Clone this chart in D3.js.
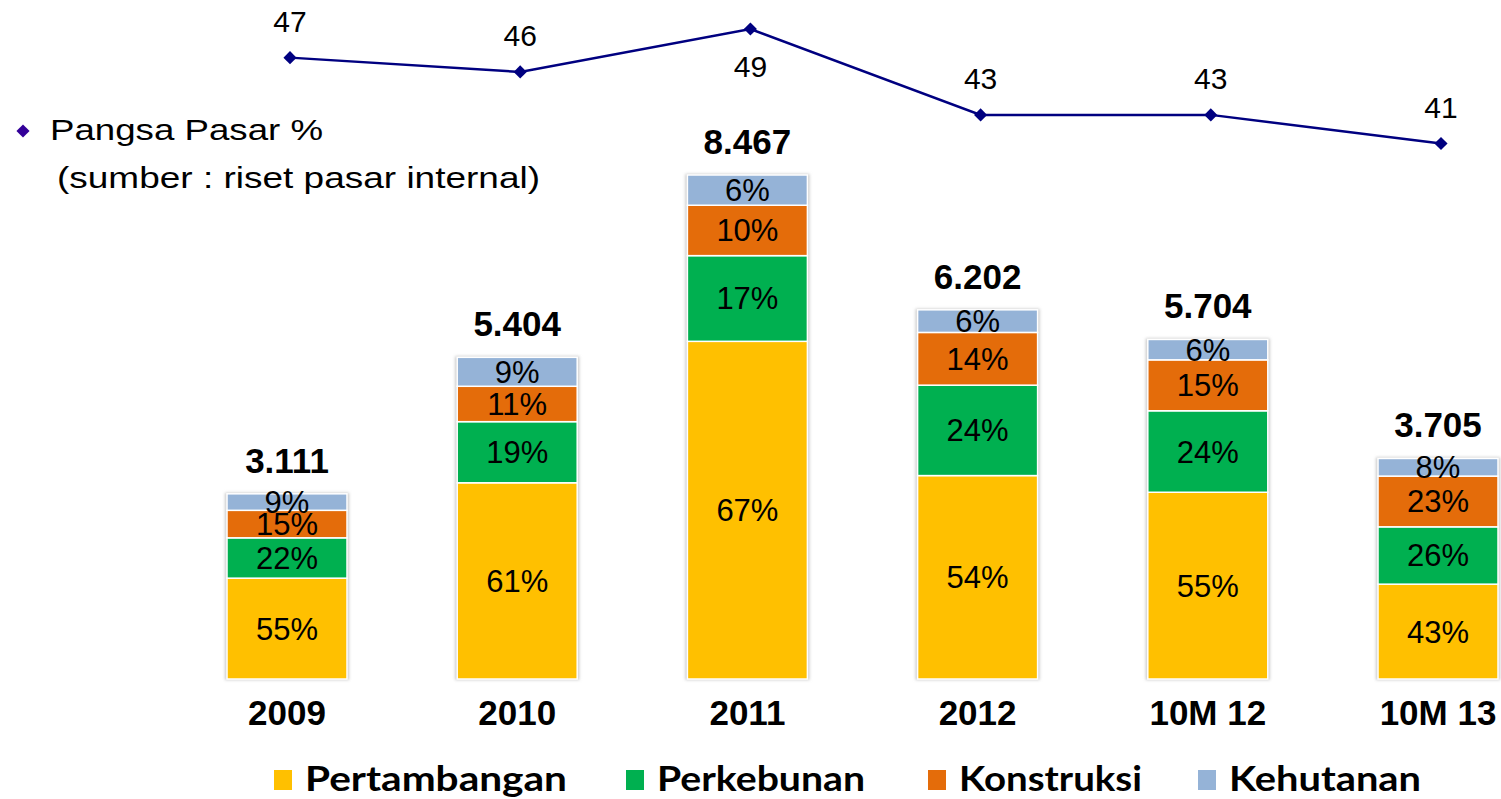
<!DOCTYPE html>
<html>
<head>
<meta charset="utf-8">
<script src="https://cdn.jsdelivr.net/npm/d3@7/dist/d3.min.js"></script>
<style>
  body { margin: 0; background: #fff; }
  svg { display: block; }
</style>
</head>
<body>
<svg width="1501" height="799"></svg>
<script>
// Stacked bars (share per sector) + market share line on top

// Data
const categories = ["2009", "2010", "2011", "2012", "10M 12", "10M 13"];
const totals = [3111, 5404, 8467, 6202, 5704, 3705];
const pertambangan = [55, 61, 67, 54, 55, 43];
const perkebunan = [22, 19, 17, 24, 24, 26];
const konstruksi = [15, 11, 10, 14, 15, 23];
const kehutanan = [9, 9, 6, 6, 6, 8];
const pangsaPasar = [47, 46, 49, 43, 43, 41];

const seriesNames = ["Pertambangan", "Perkebunan", "Konstruksi", "Kehutanan"];
const seriesColors = ["#FFC000", "#00B050", "#E46C0A", "#95B3D7"];
const seriesValues = [pertambangan, perkebunan, konstruksi, kehutanan];

const BAR_W = 120;
const BASE_FONT = "'Liberation Sans', Arial, sans-serif";
const LEGEND_FONT = "Lato, 'Open Sans', sans-serif";

const svg = d3.select("svg"),
    width = +svg.attr("width"),
    height = +svg.attr("height");

svg.append("rect").attr("width", width).attr("height", height).attr("fill", "#fff");

// soft shadow round the bars
const defs = svg.append("defs");
defs.append("filter").attr("id", "shadow")
    .attr("x", "-10%").attr("y", "-10%").attr("width", "120%").attr("height", "120%")
  .append("feGaussianBlur").attr("stdDeviation", 1.5);

// Scales
const x = d3.scalePoint().domain(categories).range([287, 1438]);
const y = d3.scaleLinear().domain([0, 8467]).range([679, 175]);
const yLine = d3.scaleLinear().domain([41, 49]).range([143.5, 29]);

const fmt = d3.formatLocale({decimal: ",", thousands: ".", grouping: [3], currency: ["", ""]}).format(",");

// Build stacked rows: each segment scaled to the bar total
const rows = categories.map((c, i) => {
    const sum = d3.sum(seriesValues, s => s[i]);
    let acc = 0;
    const segs = seriesValues.map((s, k) => {
        const v0 = acc;
        acc += totals[i] * s[i] / sum;
        return {cat: c, key: seriesNames[k], color: seriesColors[k], pct: s[i], y0: v0, y1: acc};
    });
    return {cat: c, total: totals[i], segs: segs};
});

const bars = svg.append("g").selectAll("g")
    .data(rows)
    .enter().append("g");

// shadow
bars.append("rect")
    .attr("x", d => x(d.cat) - BAR_W / 2 - 2)
    .attr("y", d => y(d.total) - 1)
    .attr("width", BAR_W + 4)
    .attr("height", d => y(0) - y(d.total) + 2)
    .attr("fill", "#c8c8c8")
    .attr("filter", "url(#shadow)");

bars.selectAll(".seg")
    .data(d => d.segs)
    .enter().append("rect")
    .attr("class", "seg")
    .attr("x", d => x(d.cat) - BAR_W / 2)
    .attr("y", d => y(d.y1))
    .attr("width", BAR_W)
    .attr("height", d => y(d.y0) - y(d.y1))
    .attr("fill", d => d.color)
    .attr("stroke", "#fff")
    .attr("stroke-width", 1.5);

// percent labels
bars.selectAll(".pct")
    .data(d => d.segs)
    .enter().append("text")
    .attr("class", "pct")
    .attr("x", d => x(d.cat))
    .attr("y", d => (y(d.y0) + y(d.y1)) / 2 + 11)
    .attr("text-anchor", "middle")
    .attr("font-family", BASE_FONT)
    .attr("font-size", 31)
    .attr("fill", "#000")
    .text(d => d.pct + "%");

// totals
bars.append("text")
    .attr("x", d => x(d.cat))
    .attr("y", d => y(d.total) - 21)
    .attr("text-anchor", "middle")
    .attr("font-family", BASE_FONT)
    .attr("font-weight", "bold")
    .attr("font-size", 35)
    .attr("fill", "#000")
    .text(d => fmt(d.total));

// category labels
svg.append("g").selectAll("text")
    .data(categories)
    .enter().append("text")
    .attr("x", d => x(d))
    .attr("y", 725)
    .attr("text-anchor", "middle")
    .attr("font-family", BASE_FONT)
    .attr("font-weight", "bold")
    .attr("font-size", 35)
    .attr("fill", "#000")
    .text(d => d);

// Market share line
const lineData = categories.map((c, i) => ({cat: c, v: pangsaPasar[i]}));
const maxShare = d3.max(pangsaPasar);

svg.append("path")
    .datum(lineData)
    .attr("fill", "none")
    .attr("stroke", "#000080")
    .attr("stroke-width", 2.5)
    .attr("d", d3.line().x(d => x(d.cat) + 3).y(d => yLine(d.v)));

svg.append("g").selectAll("path")
    .data(lineData)
    .enter().append("path")
    .attr("d", d3.symbol().type(d3.symbolDiamond2).size(110))
    .attr("transform", d => "translate(" + (x(d.cat) + 3) + "," + yLine(d.v) + ")")
    .attr("fill", "#000080");

svg.append("g").selectAll("text")
    .data(lineData)
    .enter().append("text")
    .attr("x", d => x(d.cat) + 3)
    .attr("y", d => d.v === maxShare ? yLine(d.v) + 48 : yLine(d.v) - 26)
    .attr("text-anchor", "middle")
    .attr("font-family", BASE_FONT)
    .attr("font-size", 30)
    .attr("fill", "#000")
    .text(d => d.v);

// Line legend (top left)
svg.append("path")
    .attr("d", d3.symbol().type(d3.symbolDiamond2).size(110))
    .attr("transform", "translate(23,131)")
    .attr("fill", "#330099");

svg.append("text")
    .attr("x", 50).attr("y", 140)
    .attr("font-family", BASE_FONT)
    .attr("font-size", 30)
    .attr("textLength", 273).attr("lengthAdjust", "spacingAndGlyphs")
    .text("Pangsa Pasar %");

svg.append("text")
    .attr("x", 57).attr("y", 188)
    .attr("font-family", BASE_FONT)
    .attr("font-size", 30)
    .attr("textLength", 483).attr("lengthAdjust", "spacingAndGlyphs")
    .text("(sumber : riset pasar internal)");

// Bottom legend
const legendX = [274, 626, 928, 1198];
const legendW = [262, 208, 183, 192];

const legend = svg.append("g").selectAll("g")
    .data(seriesNames)
    .enter().append("g");

legend.append("rect")
    .attr("x", (d, i) => legendX[i])
    .attr("y", 770)
    .attr("width", 18)
    .attr("height", 20)
    .attr("fill", (d, i) => seriesColors[i]);

legend.append("text")
    .attr("x", (d, i) => legendX[i] + 31)
    .attr("y", 791)
    .attr("font-family", LEGEND_FONT)
    .attr("font-weight", "bold")
    .attr("font-size", 35)
    .attr("textLength", (d, i) => legendW[i]).attr("lengthAdjust", "spacingAndGlyphs")
    .attr("fill", "#000")
    .text(d => d);
</script>
</body>
</html>
